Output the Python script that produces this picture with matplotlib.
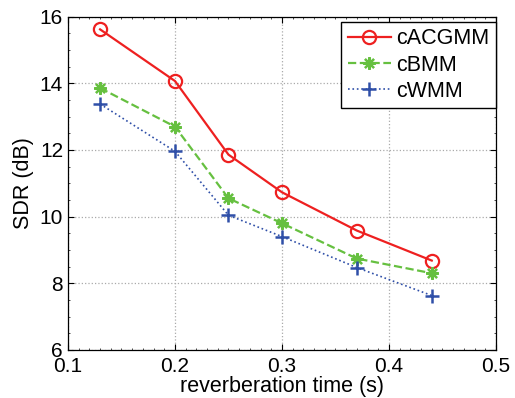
import matplotlib
matplotlib.use("Agg")
import matplotlib.pyplot as plt
from matplotlib.ticker import MultipleLocator

plt.rcParams['font.family'] = ['Liberation Sans', 'DejaVu Sans']

reverb_time = [0.13, 0.2, 0.25, 0.3, 0.37, 0.44]
sdr_cacgmm = [15.62, 14.07, 11.86, 10.73, 9.58, 8.68]
sdr_cbmm = [13.86, 12.70, 10.55, 9.80, 8.74, 8.30]
sdr_cwmm = [13.38, 11.96, 10.04, 9.40, 8.47, 7.63]

fig = plt.figure(figsize=(5.15, 3.98), dpi=100)
ax = fig.add_axes([0.132, 0.121, 0.831, 0.837])

ax.plot(reverb_time, sdr_cacgmm, '-o', color='#ee2020', lw=1.6, ms=9.5,
        mfc='none', mew=1.6, label='cACGMM')
ax.plot(reverb_time, sdr_cbmm, '--', marker=(8, 2, 0), color='#66c040',
        lw=1.6, ms=9, mew=1.6, label='cBMM')
ax.plot(reverb_time, sdr_cwmm, ':+', color='#2f4fa8', lw=1.2, ms=10,
        mew=1.8, label='cWMM')

ax.set_xlim(0.1, 0.5)
ax.set_ylim(6, 16)
ax.set_xticks([0.1, 0.2, 0.3, 0.4, 0.5])
ax.set_xticklabels(['0.1', '0.2', '0.3', '0.4', '0.5'])
ax.set_yticks([6, 8, 10, 12, 14, 16])
ax.xaxis.set_minor_locator(MultipleLocator(0.01))
ax.yaxis.set_minor_locator(MultipleLocator(0.5))
ax.grid(True, ls=':', color='#aaaaaa', lw=0.9)
ax.tick_params(direction='in', top=True, right=True, labelsize=15, length=4)
ax.tick_params(axis='x', pad=5)
ax.tick_params(which='minor', direction='in', top=True, right=True, length=1.5,
               width=0.5)
for s in ax.spines.values():
    s.set_linewidth(0.9)

ax.set_xlabel('reverberation time (s)', fontsize=15.5, labelpad=0)
ax.set_ylabel('SDR (dB)', fontsize=15.5, labelpad=4)

leg = ax.legend(loc='upper right', bbox_to_anchor=(1.0, 0.985), fontsize=15.5,
                fancybox=False, framealpha=1, edgecolor='black',
                handlelength=2.0, handletextpad=0.25, borderaxespad=0,
                labelspacing=0.25, borderpad=0.3)
leg.get_frame().set_linewidth(1.0)

fig.savefig('out.png', dpi=100)
